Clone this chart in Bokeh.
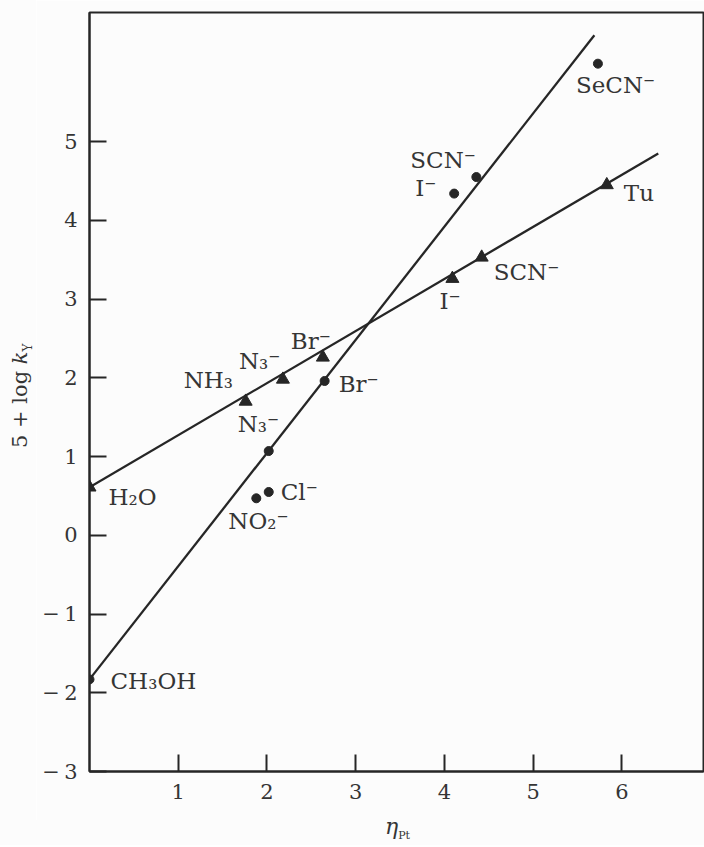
from bokeh.plotting import figure
from bokeh.models import ColumnDataSource, Range1d, FixedTicker, CustomJSTickFormatter, Div
from bokeh.layouts import row, column
from bokeh.core.properties import value
from bokeh.embed import file_html
from bokeh.resources import INLINE

# ---------------- data ----------------
circle_x = [0.0, 2.02, 1.88, 2.02, 2.65, 4.11, 4.36, 5.73]
circle_y = [-1.83, 1.07, 0.47, 0.55, 1.96, 4.34, 4.55, 5.99]
circle_labels = ["CH₃OH", "N₃⁻", "NO₂⁻", "Cl⁻", "Br⁻", "I⁻", "SCN⁻", "SeCN⁻"]

tri_x = [0.0, 1.76, 2.18, 2.63, 4.09, 4.42, 5.83]
tri_y = [0.61, 1.70, 1.98, 2.26, 3.26, 3.53, 4.45]
tri_labels = ["H₂O", "NH₃", "N₃⁻", "Br⁻", "I⁻", "SCN⁻", "Tu"]

circle_fit_x = [0.0, 5.69]
circle_fit_y = [-1.83, 6.35]
tri_fit_x = [0.0, 6.41]
tri_fit_y = [0.61, 4.85]

x_ticks = [1, 2, 3, 4, 5, 6]
y_ticks = [-3, -2, -1, 0, 1, 2, 3, 4, 5]

# ---------------- label placement (screen px offsets, style) ----------------
circle_dx = [21, -31, -28, 12, 14, -39, -66, -22]
circle_dy = [2, -27, 23, 0, 3, -6, -17, 21]
tri_dx = [19, -62, -44, -32, -13, 12, 17]
tri_dy = [10, -21, -18, -16, 22, 15, 8]

INK = "#262626"
TXT = "#353535"
BG = "#fcfcfc"
FONT = "DejaVu Serif"

YLAB_W = 36
PLOT_H = 820

p = figure(width=704 - YLAB_W, height=PLOT_H, output_backend="svg", toolbar_location=None,
           x_range=Range1d(0, 6.92), y_range=Range1d(-3, 6.64),
           min_border_left=89 - YLAB_W, min_border_right=1, min_border_top=12,
           min_border_bottom=PLOT_H - 771,
           background_fill_color=BG, border_fill_color=BG, margin=0)
p.grid.visible = False
p.outline_line_color = INK
p.outline_line_width = 2

for ax in (p.xaxis[0], p.yaxis[0]):
    ax.axis_line_color = INK
    ax.axis_line_width = 2
    ax.major_tick_line_color = INK
    ax.major_tick_line_width = 2
    ax.major_tick_in = 17
    ax.major_tick_out = 0
    ax.minor_tick_line_color = None
    ax.major_label_text_font = FONT
    ax.major_label_text_font_size = "21px"
    ax.major_label_text_color = TXT
    ax.major_label_standoff = 12

p.xaxis.ticker = FixedTicker(ticks=x_ticks)
p.yaxis.ticker = FixedTicker(ticks=y_ticks)
p.yaxis.formatter = CustomJSTickFormatter(
    code="return tick < 0 ? '\u2212\u2009' + Math.abs(tick) : String(tick);")

# fitted lines
p.line(circle_fit_x, circle_fit_y, line_color=INK, line_width=2.3)
p.line(tri_fit_x, tri_fit_y, line_color=INK, line_width=2.3)

# markers
csrc = ColumnDataSource(dict(x=circle_x, y=circle_y, t=circle_labels, dx=circle_dx, dy=circle_dy))
tsrc = ColumnDataSource(dict(x=tri_x, y=tri_y, t=tri_labels, dx=tri_dx, dy=tri_dy))
p.scatter("x", "y", source=csrc, marker="circle", size=9, fill_color=INK, line_color=INK)
p.scatter("x", "y", source=tsrc, marker="triangle", size=13, fill_color=INK, line_color=INK)

for src in (csrc, tsrc):
    p.text("x", "y", text="t", source=src, x_offset="dx", y_offset="dy",
           text_font=value(FONT), text_font_size="23px", text_color=TXT,
           text_align="left", text_baseline="middle")

# axis titles as real HTML text (mixed italic / subscript)
ylab = Div(
    text=('<div style="transform: translate(8px, 448px) rotate(-90deg); transform-origin: 0 0;'
          ' white-space: nowrap; width: max-content; font-family: \'DejaVu Serif\';'
          ' font-size: 21px; line-height: 24px; color: #353535;">'
          '5 + log <i>k</i><sub style="font-size: 12px;">Y</sub></div>'),
    width=YLAB_W, height=PLOT_H, margin=0, styles={"background-color": BG})
xlab = Div(
    text=('<div style="transform: translate(385px, -4px);'
          ' white-space: nowrap; width: max-content; font-family: \'DejaVu Serif\';'
          ' font-size: 22px; line-height: 22px; color: #353535;">'
          '<i>η</i><sub style="font-size: 11px;">Pt</sub></div>'),
    width=704, height=25, margin=0, styles={"background-color": BG})

layout = column(row(ylab, p, margin=0, spacing=0), xlab, margin=0, spacing=0)
open("out.html", "w").write(file_html(layout, INLINE))
